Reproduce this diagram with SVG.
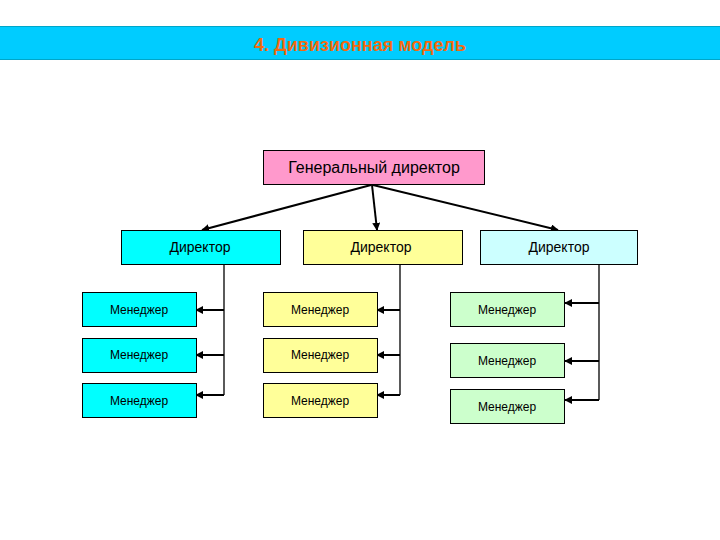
<svg xmlns="http://www.w3.org/2000/svg" width="720" height="540" viewBox="0 0 720 540">
<style>
.box{stroke:#000;stroke-width:1}
.t{font-family:"Liberation Sans",Arial,sans-serif;fill:#000;text-anchor:middle}
.ln{stroke:#000;stroke-width:1.3;fill:none}
.ar{stroke:#000;stroke-width:2;fill:none;marker-end:url(#ah)}
</style>
<defs>
<marker id="ah" viewBox="0 0 10 10" refX="9" refY="5" markerWidth="4" markerHeight="4" orient="auto" markerUnits="strokeWidth">
<path d="M0,0 L10,5 L0,10 z" fill="#000"/>
</marker>
</defs>
<rect width="720" height="540" fill="#fff"/>
<g id="title">
<rect x="0" y="26" width="720" height="34" fill="#00CCFF"/>
<line x1="0" y1="26.5" x2="720" y2="26.5" stroke="#00A6C8" stroke-width="1"/>
<line x1="0" y1="59.5" x2="720" y2="59.5" stroke="#00A6C8" stroke-width="1"/>
<text x="360" y="51" font-family="Liberation Sans,Arial,sans-serif" font-size="18" font-weight="bold" fill="#F26A10" text-anchor="middle">4. Дивизионная модель</text>
</g>
<g id="connectors">
<line class="ar" x1="371" y1="185" x2="202" y2="230"/>
<line class="ar" x1="372" y1="185" x2="377" y2="230"/>
<line class="ar" x1="373" y1="185" x2="558" y2="230"/>
<polyline class="ln" points="224,264 224,395"/>
<polyline class="ln" points="400,264 400,395"/>
<polyline class="ln" points="599,264 599,400"/>
<line class="ar" x1="224" y1="310" x2="196" y2="310"/>
<line class="ar" x1="224" y1="355" x2="196" y2="355"/>
<line class="ar" x1="224" y1="395" x2="196" y2="395"/>
<line class="ar" x1="400" y1="310" x2="377" y2="310"/>
<line class="ar" x1="400" y1="355" x2="377" y2="355"/>
<line class="ar" x1="400" y1="395" x2="377" y2="395"/>
<line class="ar" x1="599" y1="303" x2="565" y2="303"/>
<line class="ar" x1="599" y1="361" x2="565" y2="361"/>
<line class="ar" x1="599" y1="400" x2="565" y2="400"/>
</g>
<g id="gd"><rect class="box" x="263.5" y="150.5" width="221" height="34" fill="#FF99CC"/><text class="t" x="374" y="173" font-size="16">Генеральный директор</text></g>
<g id="d1"><rect class="box" x="121.5" y="230.5" width="159" height="34" fill="#00FFFF"/><text class="t" x="200" y="252" font-size="14">Директор</text></g>
<g id="d2"><rect class="box" x="303.5" y="230.5" width="159" height="34" fill="#FFFF99"/><text class="t" x="381" y="252" font-size="14">Директор</text></g>
<g id="d3"><rect class="box" x="480.5" y="230.5" width="157" height="34" fill="#CCFFFF"/><text class="t" x="559" y="252" font-size="14">Директор</text></g>
<g id="m11"><rect class="box" x="82.5" y="292.5" width="114" height="34" fill="#00FFFF"/><text class="t" x="139" y="314" font-size="12">Менеджер</text></g>
<g id="m12"><rect class="box" x="82.5" y="338.5" width="114" height="34" fill="#00FFFF"/><text class="t" x="139" y="359" font-size="12">Менеджер</text></g>
<g id="m13"><rect class="box" x="82.5" y="383.5" width="114" height="34" fill="#00FFFF"/><text class="t" x="139" y="405" font-size="12">Менеджер</text></g>
<g id="m21"><rect class="box" x="263.5" y="292.5" width="114" height="34" fill="#FFFF99"/><text class="t" x="320" y="314" font-size="12">Менеджер</text></g>
<g id="m22"><rect class="box" x="263.5" y="338.5" width="114" height="34" fill="#FFFF99"/><text class="t" x="320" y="359" font-size="12">Менеджер</text></g>
<g id="m23"><rect class="box" x="263.5" y="383.5" width="114" height="34" fill="#FFFF99"/><text class="t" x="320" y="405" font-size="12">Менеджер</text></g>
<g id="m31"><rect class="box" x="450.5" y="292.5" width="114" height="34" fill="#CCFFCC"/><text class="t" x="507" y="314" font-size="12">Менеджер</text></g>
<g id="m32"><rect class="box" x="450.5" y="343.5" width="114" height="34" fill="#CCFFCC"/><text class="t" x="507" y="365" font-size="12">Менеджер</text></g>
<g id="m33"><rect class="box" x="450.5" y="389.5" width="114" height="34" fill="#CCFFCC"/><text class="t" x="507" y="411" font-size="12">Менеджер</text></g>
</svg>
